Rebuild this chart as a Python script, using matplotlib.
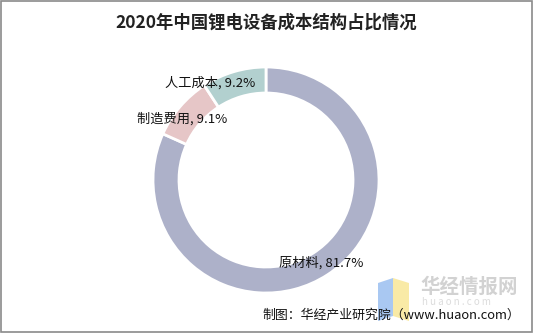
import matplotlib

matplotlib.use("Agg")
import matplotlib.pyplot as plt
from matplotlib.patches import Polygon, Rectangle

plt.rcParams["font.family"] = ["Noto Sans CJK SC", "DejaVu Sans"]

TITLE = "2020年中国锂电设备成本结构占比情况"
categories = ["原材料", "制造费用", "人工成本"]
shares = [81.7, 9.1, 9.2]
colors = ["#adb1c9", "#e6c6c7", "#b2d0cf"]
SOURCE = "制图：华经产业研究院（www.huaon.com）"

W, H = 533, 333
fig = plt.figure(figsize=(W / 100, H / 100), dpi=100)
ax = fig.add_axes([0, 0, 1, 1])

# outer frame
ax.add_patch(Rectangle((1, 1), W - 2, H - 2, fill=False, edgecolor="#8a8a8a", linewidth=1.2))

ax.text(W / 2, H - 23, TITLE, ha="center", va="center", fontsize=12.5,
        fontweight="bold", color="#222222")

center = (266, H - 180)
radius = 113
ax.pie(shares, colors=colors, startangle=90, counterclock=False,
       center=center, radius=radius, frame=True,
       wedgeprops=dict(width=26, edgecolor="white", linewidth=2))
ax.set_xlim(0, W)
ax.set_ylim(0, H)
ax.set_aspect("equal")
ax.axis("off")

label_pos = {"原材料": (279, H - 263), "制造费用": (137, H - 119), "人工成本": (165, H - 83)}
for name, val in zip(categories, shares):
    x, y = label_pos[name]
    ax.text(x, y, f"{name}, {val}%", ha="left", va="center", fontsize=9.5, color="#111111")

# watermark
ax.add_patch(Polygon([(378, H - 283), (393, H - 278), (393, H - 316), (378, H - 321)],
                     closed=True, facecolor="#a9c8f2", edgecolor="none"))
ax.add_patch(Polygon([(393, H - 278), (409, H - 283), (409, H - 321), (393, H - 316)],
                     closed=True, facecolor="#f9eaa6", edgecolor="none"))
ax.text(420, H - 287, "华经情报网", ha="left", va="center", fontsize=14,
        fontweight="bold", color="#d2d2d2")
ax.text(422, H - 302, "h u a o n . c o m", ha="left", va="center", fontsize=7,
        color="#dcdcdc")

ax.text(520, H - 315, SOURCE, ha="right", va="center", fontsize=9.3, color="#111111")

fig.savefig("out.png", dpi=100)
